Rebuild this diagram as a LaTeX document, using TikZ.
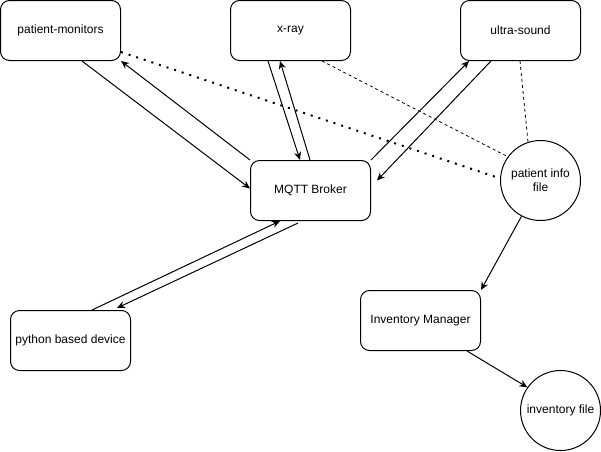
\documentclass[tikz,border=0pt]{standalone}
\usepackage{fontspec}
\setmainfont{Liberation Sans}
\usetikzlibrary{arrows.meta}

\tikzset{
  box/.style={draw, rounded corners=9pt, minimum width=120pt, minimum height=60pt, inner sep=2pt, font=\fontsize{12}{14}\selectfont},
  datafile/.style={draw, circle, minimum size=80pt, inner sep=0pt, align=center, font=\fontsize{12}{14}\selectfont},
  link/.style={-{Stealth[length=8pt,width=7pt]}},
  dotlink/.style={line width=2pt, dash pattern=on 2pt off 6pt},
  dashlink/.style={line width=0.8pt, dash pattern=on 3pt off 3pt}
}

\begin{document}
\begin{tikzpicture}[x=1pt, y=-1pt, line width=1pt]
\useasboundingbox (0,0) rectangle (601,451);

% devices
\node[box] (pm) at (60.5,30.5) {patient-monitors};
\node[box] (xr) at (290.5,30.5) {x-ray};
\node[box] (us) at (520.5,30.5) {ultra-sound};
\node[box] (mq) at (310.5,190.5) {MQTT Broker};
\node[box] (py) at (70.5,340.5) {python based device};
\node[box] (im) at (420.5,320.5) {Inventory Manager};

% files
\node[datafile] (pi) at (540.5,180.5) {patient info\\file};
\node[datafile] (inv) at (560.5,410.5) {inventory file};


\draw [link] ([xshift=82pt]pm.south west) -- ([yshift=2pt]mq.west);
\draw [link] (mq.north west) -- (pm.south east);

\draw [link] ([xshift=38pt]xr.south west) -- ([xshift=50pt]mq.north west);
\draw [link] ([xshift=60pt]mq.north west) -- ([xshift=50pt]xr.south west);

\draw [link] (mq.north east) -- ([xshift=9pt]us.south west);
\draw [link] ([xshift=31pt]us.south west) -- ([xshift=6pt,yshift=10pt]mq.east);

\draw [link] ([xshift=82pt]py.north west) -- ([xshift=30pt]mq.south west);
\draw [link] ([xshift=48pt,yshift=-2pt]mq.south west) -- ([xshift=107pt,yshift=2pt]py.north west);

\draw [link] (pi.242) -- (im.north east);
\draw [link] ([xshift=107pt]im.south west) -- (inv.145);

\draw [dotlink] ([yshift=9pt]pm.south east) -- (pi.177);
\draw [dashlink] ([xshift=92pt]xr.south west) -- (pi.144);
\draw [dashlink] ([xshift=60pt]us.south west) -- (pi.108);

\end{tikzpicture}
\end{document}
